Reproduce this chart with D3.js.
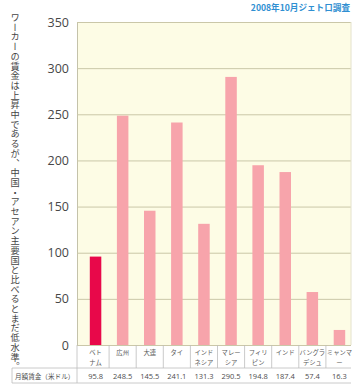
<!DOCTYPE html>
<html>
<head>
<meta charset="utf-8">
<script src="https://cdn.jsdelivr.net/npm/d3@7"></script>
<style>
  html, body { margin: 0; padding: 0; background: #ffffff; }
  svg { display: block; }
</style>
</head>
<body>
<svg id="chart" width="353" height="384"></svg>
<script>
// Monthly worker wages (USD), JETRO survey, Oct 2008
const categories = ["ベトナム", "広州", "大連", "タイ", "インドネシア", "マレーシア", "フィリピン", "インド", "バングラデシュ", "ミャンマー"];
const labelLines = [["ベト", "ナム"], ["広州"], ["大連"], ["タイ"], ["インド", "ネシア"], ["マレー", "シア"], ["フィリ", "ピン"], ["インド"], ["バングラ", "デシュ"], ["ミャンマ", "ー"]];
const wages = [95.8, 248.5, 145.5, 241.1, 131.3, 290.5, 194.8, 187.4, 57.4, 16.3];
const yTicks = [0, 50, 100, 150, 200, 250, 300, 350];
const sideNote = "ワーカーの賃金は上昇中であるが、中国・アセアン主要国と比べるとまだ低水準。";
const sourceNote = "2008年10月ジェトロ調査";
const rowTitle = "月額賃金（米ドル）";

const svg = d3.select("#chart");
const jp = "'Noto Sans CJK JP', 'Noto Sans', sans-serif";

const plotLeft = 77, plotRight = 351, plotTop = 22, plotBottom = 345;

const x = d3.scaleBand().domain(categories).range([82, 353]).padding(0);
const y = d3.scaleLinear().domain([0, 350]).range([plotBottom, plotTop]);
const barW = 11.5;

// plot background
svg.append("rect")
  .attr("x", plotLeft).attr("y", plotTop)
  .attr("width", plotRight - plotLeft).attr("height", plotBottom - plotTop)
  .attr("fill", "#fdfce5");

// gridlines + y axis labels
const yAxis = d3.axisLeft(y).tickValues(yTicks).tickSize(-(plotRight - plotLeft)).tickPadding(8);
const gy = svg.append("g").attr("transform", `translate(${plotLeft},0)`).call(yAxis);
gy.select(".domain").attr("stroke", "#c4c2aa").attr("stroke-width", 1);
gy.selectAll(".tick line").attr("stroke", "#cac7a8").attr("stroke-width", 1);
gy.selectAll(".tick text")
  .attr("fill", "#474747")
  .style("font-family", "'Open Sans', 'Noto Sans', sans-serif")
  .style("font-size", "12.5px");

// right border
svg.append("line")
  .attr("x1", plotRight).attr("x2", plotRight)
  .attr("y1", plotTop).attr("y2", plotBottom)
  .attr("stroke", "#e4e2cc");

// bars
svg.append("g").selectAll("rect")
  .data(wages)
  .join("rect")
  .attr("x", (d, i) => x(categories[i]) + x.bandwidth() / 2 - barW / 2)
  .attr("y", d => y(d))
  .attr("width", barW)
  .attr("height", d => y(0) - y(d))
  .attr("fill", (d, i) => i === 0 ? "#e8084a" : "#f7a4ab");

// category label row
const tableStroke = "#bdbdbd";
const rowTop = plotBottom, rowMid = 368, rowBottom = 383;
const sepXs = categories.slice(1).map(c => x(c));
svg.append("g").selectAll("line")
  .data(sepXs)
  .join("line")
  .attr("x1", d => d).attr("x2", d => d)
  .attr("y1", rowTop).attr("y2", rowMid)
  .attr("stroke", tableStroke).attr("stroke-width", 0.8);
svg.append("line")
  .attr("x1", plotLeft).attr("x2", plotLeft)
  .attr("y1", rowTop).attr("y2", rowBottom)
  .attr("stroke", tableStroke).attr("stroke-width", 0.8);

const labelG = svg.append("g");
labelLines.forEach((lines, i) => {
  const cx = x(categories[i]) + x.bandwidth() / 2;
  lines.forEach((t, k) => {
    labelG.append("text")
      .attr("x", cx).attr("y", 355 + k * 10)
      .attr("text-anchor", "middle")
      .attr("fill", "#5a5a5a")
      .style("font-family", jp)
      .style("font-size", "6.3px")
      .text(t);
  });
});

// value row
svg.append("line").attr("x1", 12).attr("x2", plotRight).attr("y1", rowMid).attr("y2", rowMid)
  .attr("stroke", tableStroke).attr("stroke-width", 0.8);
svg.append("line").attr("x1", 12).attr("x2", plotRight).attr("y1", rowBottom).attr("y2", rowBottom)
  .attr("stroke", tableStroke).attr("stroke-width", 0.8);
svg.append("line").attr("x1", 12).attr("x2", 12).attr("y1", rowMid).attr("y2", rowBottom)
  .attr("stroke", tableStroke).attr("stroke-width", 0.8);
svg.append("text")
  .attr("x", 15).attr("y", 378.5)
  .attr("fill", "#4d4d4d")
  .style("font-family", jp)
  .style("font-size", "6.6px")
  .text(rowTitle);
svg.append("g").selectAll("text")
  .data(wages)
  .join("text")
  .attr("x", (d, i) => x(categories[i]) + x.bandwidth() / 2)
  .attr("y", 378.5)
  .attr("text-anchor", "middle")
  .attr("fill", "#4d4d4d")
  .style("font-family", "'Open Sans', 'Noto Sans', sans-serif")
  .style("font-size", "7.5px")
  .text(d => d.toFixed(1));

// source note
svg.append("text")
  .attr("x", 350).attr("y", 11)
  .attr("text-anchor", "end")
  .attr("fill", "#2f8fd2")
  .style("font-family", jp)
  .style("font-size", "8.6px")
  .style("font-weight", "bold")
  .text(sourceNote);

// vertical side note
svg.append("text")
  .attr("x", 15).attr("y", 13)
  .attr("fill", "#454545")
  .style("font-family", jp)
  .style("font-size", "9.2px")
  .style("writing-mode", "vertical-rl")
  .style("letter-spacing", "0.5px")
  .text(sideNote);
</script>
</body>
</html>
